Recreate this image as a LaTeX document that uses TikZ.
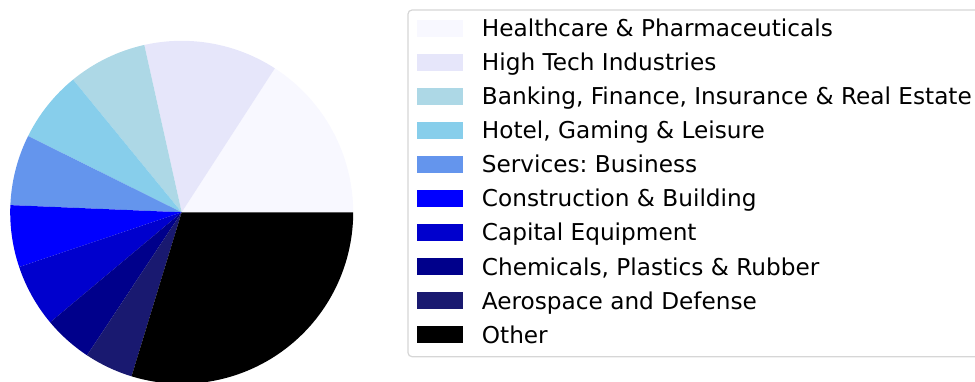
\documentclass[tikz,border=0pt]{standalone}
\usepackage{fontspec}
\setmainfont{DejaVu Sans}
\usepackage{xcolor}
\usepackage{tikz}
\usetikzlibrary{positioning}
\frenchspacing

\definecolor{hcare}{HTML}{F8F8FF}
\definecolor{htech}{HTML}{E6E6FA}
\definecolor{bank}{HTML}{ADD8E6}
\definecolor{hotel}{HTML}{87CEEB}
\definecolor{serv}{HTML}{6495ED}
\definecolor{constr}{HTML}{0000FF}
\definecolor{capeq}{HTML}{0000CD}
\definecolor{chem}{HTML}{00008B}
\definecolor{aero}{HTML}{191970}
\definecolor{other}{HTML}{000000}
\definecolor{framegray}{HTML}{D6D6D6}

\tikzset{
  patch/.style={minimum width=46pt, minimum height=16.7pt, inner sep=0pt, outer sep=0pt},
  entry/.style={anchor=west, inner sep=0pt, outer sep=0pt, text height=16.9pt, text depth=0pt,
    font=\fontsize{23.2}{28}\selectfont},
  legendframe/.style={draw=framegray, line width=1.2pt, fill=white, rounded corners=4pt}
}

\begin{document}
\begin{tikzpicture}[x=1pt,y=1pt]
\useasboundingbox (0,0) rectangle (975,381);
\clip (0,0) rectangle (975,381);
\def \radius {171.5}
\def \angles {{0,57.1,102.6,129.3,153.6,177.6,198.6,219.9,236.5,253.0,360}}
\coordinate (c) at (181.7,168.7);

% wedges, counterclockwise from the right
\foreach \s/\col in {1/hcare,2/htech,3/bank,4/hotel,5/serv,6/constr,7/capeq,8/chem,9/aero,10/other}
{
  \pgfmathsetmacro\a{\angles[\s-1]}
  \pgfmathsetmacro\b{\angles[\s]}
  \fill[\col] (c) -- ++(\a:\radius) arc (\a:\b:\radius) -- cycle;
}

% legend
\draw[legendframe] (408,371) rectangle (1000,24.3);
\foreach \s/\col/\txt in {1/hcare/{Healthcare \& Pharmaceuticals},
  2/htech/{High Tech Industries},
  3/bank/{Banking, Finance, Insurance \& Real Estate},
  4/hotel/{Hotel, Gaming \& Leisure},
  5/serv/{Services: Business},
  6/constr/{Construction \& Building},
  7/capeq/{Capital Equipment},
  8/chem/{Chemicals, Plastics \& Rubber},
  9/aero/{Aerospace and Defense},
  10/other/{Other}}
{
  \node[patch, fill=\col] (p\s) at (439.7,{352.7-34.04*(\s-1)}) {};
  \node[entry, right=19.2pt of p\s] (t\s) {\txt};
}
\end{tikzpicture}
\end{document}
